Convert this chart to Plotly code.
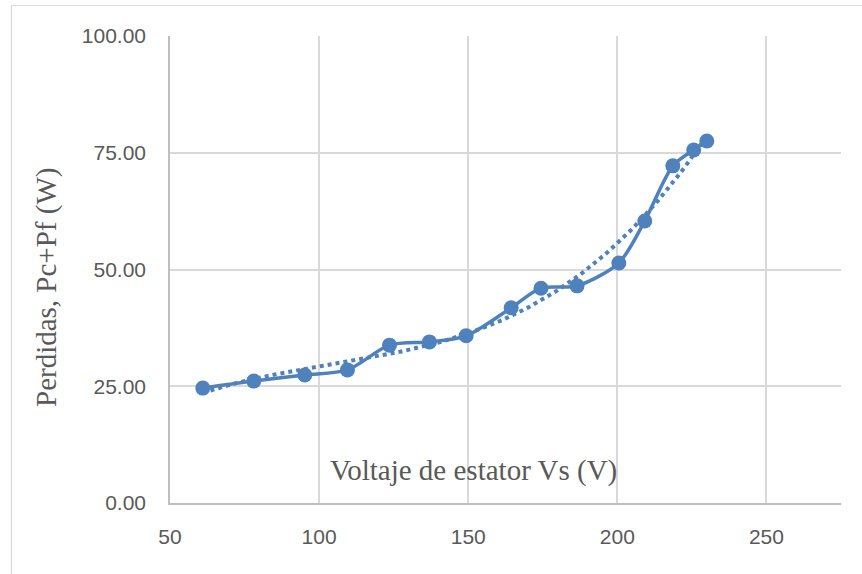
import numpy as np
import plotly.graph_objects as go

# Stator voltage (V) and measured core + friction losses (W)
voltaje = [61.0, 78.1, 95.2, 109.5, 123.6, 137.0, 149.3, 164.4, 174.4, 186.5, 200.5, 209.2, 218.6, 225.6, 230.0]
perdidas = [24.6, 26.1, 27.4, 28.5, 33.8, 34.5, 35.8, 41.8, 46.0, 46.5, 51.4, 60.4, 72.2, 75.6, 77.5]

x_ticks = [50, 100, 150, 200, 250]
y_ticks = [0, 25, 50, 75, 100]
y_tick_text = ["0.00", "25.00", "50.00", "75.00", "100.00"]

BLUE = "#4F81BD"
GRID = "#D9D9D9"
AXIS = "#BFBFBF"
TICK_FONT = dict(family="Liberation Sans", size=21, color="#595959")
TITLE_FONT = dict(family="Liberation Serif", size=29, color="#595959")

# polynomial trendline through the measured points
coef = np.polyfit(voltaje, perdidas, 3)
x_fit = np.linspace(min(voltaje), max(voltaje), 200)
y_fit = np.polyval(coef, x_fit)

fig = go.Figure()
fig.add_trace(go.Scatter(
    x=x_fit, y=y_fit, mode="lines",
    line=dict(color=BLUE, width=4, dash="dot"),
    hoverinfo="skip", showlegend=False,
))
fig.add_trace(go.Scatter(
    x=voltaje, y=perdidas, mode="lines+markers",
    line=dict(color=BLUE, width=3.5, shape="spline", smoothing=0.8),
    marker=dict(color=BLUE, size=15),
    showlegend=False,
))

W, H = 862, 574
L, R, T, B = 170, 21, 36, 71
pw, ph = W - L - R, H - T - B


def px_x(p):
    return (p - L) / pw


def px_y(p):
    return (H - B - p) / ph


fig.update_layout(
    width=W, height=H,
    margin=dict(l=L, r=R, t=T, b=B),
    paper_bgcolor="white", plot_bgcolor="white",
    xaxis=dict(
        range=[50, 275], tickvals=x_ticks, showgrid=True, gridcolor=GRID, gridwidth=1.5,
        showline=True, linecolor=AXIS, linewidth=1.5, zeroline=False,
        tickfont=TICK_FONT, ticks="", ticklabelstandoff=14, fixedrange=True,
    ),
    yaxis=dict(
        range=[0, 100], tickvals=y_ticks, ticktext=y_tick_text, showgrid=True,
        gridcolor=GRID, gridwidth=1.5, showline=True, linecolor=AXIS, linewidth=1.5,
        zeroline=False, tickfont=TICK_FONT, ticks="", ticklabelstandoff=18, fixedrange=True,
    ),
    shapes=[dict(
        type="rect", xref="paper", yref="paper",
        x0=px_x(11.5), x1=px_x(880), y0=px_y(600), y1=px_y(5.5),
        line=dict(color=GRID, width=1.2), fillcolor="rgba(0,0,0,0)", layer="below",
    )],
    annotations=[
        dict(text="Voltaje de estator Vs (V)", xref="paper", yref="paper",
             x=px_x(473), y=px_y(470), showarrow=False, font=TITLE_FONT,
             xanchor="center", yanchor="middle"),
        dict(text="Perdidas, Pc+Pf (W)", xref="paper", yref="paper",
             x=px_x(46), y=px_y(288), showarrow=False, font=TITLE_FONT,
             textangle=-90, xanchor="center", yanchor="middle"),
    ],
)

fig.write_html("out.html")
